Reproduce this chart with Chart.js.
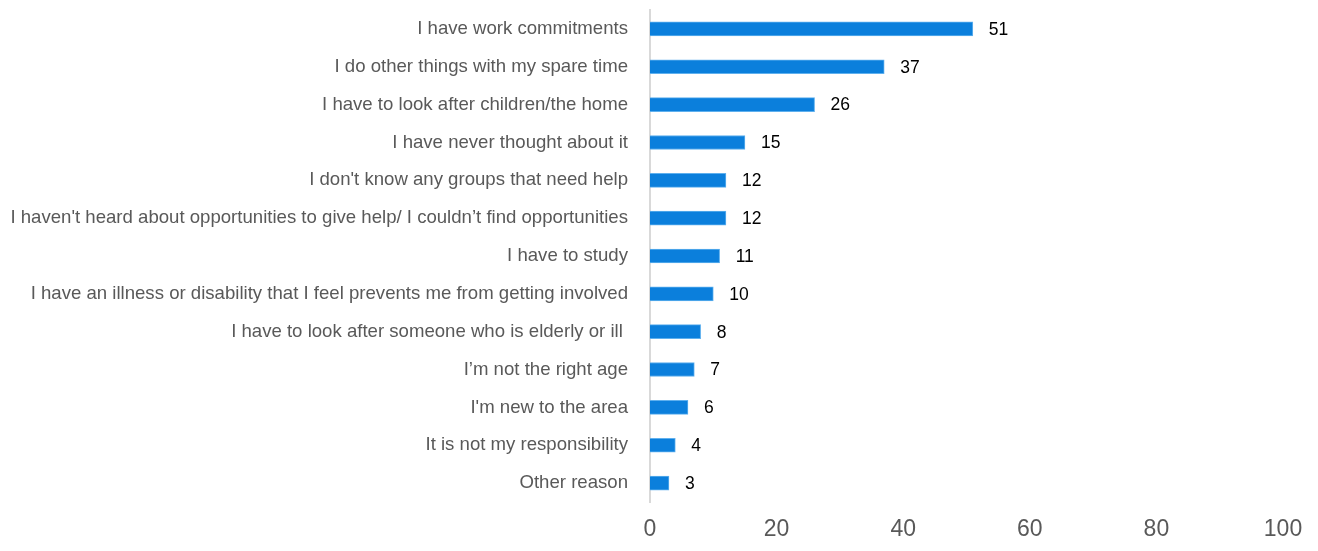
<!DOCTYPE html>
<html>
<head>
<meta charset="utf-8">
<script src="https://cdn.jsdelivr.net/npm/chart.js@4/dist/chart.umd.min.js"></script>
<style>
  html, body { margin: 0; padding: 0; background: #fff; }
  #wrap { width: 1318px; height: 551px; }
</style>
</head>
<body>
<div id="wrap"><canvas id="reasons"></canvas></div>
<script>
const reasons = [
    "I have work commitments",
    "I do other things with my spare time",
    "I have to look after children/the home",
    "I have never thought about it",
    "I don't know any groups that need help",
    "I haven't heard about opportunities to give help/ I couldn’t find opportunities",
    "I have to study",
    "I have an illness or disability that I feel prevents me from getting involved",
    "I have to look after someone who is elderly or ill ",
    "I’m not the right age",
    "I'm new to the area",
    "It is not my responsibility",
    "Other reason"
];
const percents = [51, 37, 26, 15, 12, 12, 11, 10, 8, 7, 6, 4, 3];
const xTicks = [0, 20, 40, 60, 80, 100];

const fontFamily = '"Liberation Sans", Arial, sans-serif';

// writes the value just past the end of each bar
const valueLabels = {
    id: 'valueLabels',
    afterDatasetsDraw(chart) {
        const ctx = chart.ctx;
        ctx.save();
        ctx.font = '17.5px ' + fontFamily;
        ctx.fillStyle = '#000000';
        ctx.textAlign = 'left';
        ctx.textBaseline = 'middle';
        chart.getDatasetMeta(0).data.forEach((bar, i) => {
            ctx.fillText(percents[i], bar.x + 16, bar.y + 1);
        });
        ctx.restore();
    }
};

let ctx = document.getElementById('reasons').getContext('2d');
let config = {
    type: 'bar',
    data: {
        labels: reasons,
        datasets: [{
            data: percents,
            backgroundColor: '#0b7fdc',
            borderColor: '#5fb0ee',
            borderWidth: 1,
            borderSkipped: 'left',
            barThickness: 14
        }]
    },
    options: {
        indexAxis: 'y',
        responsive: true,
        maintainAspectRatio: false,
        animation: false,
        layout: { padding: { top: 10, right: 35, left: 0, bottom: 0 } },
        plugins: {
            legend: { display: false },
            tooltip: { enabled: false }
        },
        scales: {
            x: {
                min: 0,
                max: 100,
                afterBuildTicks: (scale) => {
                    scale.ticks = xTicks.map(v => ({ value: v }));
                },
                afterFit: (scale) => {
                    scale.height = 49;
                    scale.paddingLeft = 0;
                    scale.paddingRight = 0;
                },
                grid: { display: false, drawTicks: false },
                border: { display: false },
                ticks: {
                    color: '#595959',
                    padding: 14,
                    font: { family: fontFamily, size: 23 }
                }
            },
            y: {
                afterFit: (scale) => {
                    scale.width = 650;
                    scale.paddingTop = 0;
                    scale.paddingBottom = 0;
                },
                grid: { display: false, drawTicks: false },
                border: { display: true, color: '#d9d9d9', width: 2 },
                ticks: {
                    color: '#595959',
                    padding: 22,
                    autoSkip: false,
                    font: { family: fontFamily, size: 18.6 }
                }
            }
        }
    },
    plugins: [valueLabels]
};

let reasonsChart = new Chart(ctx, config);
</script>
</body>
</html>
